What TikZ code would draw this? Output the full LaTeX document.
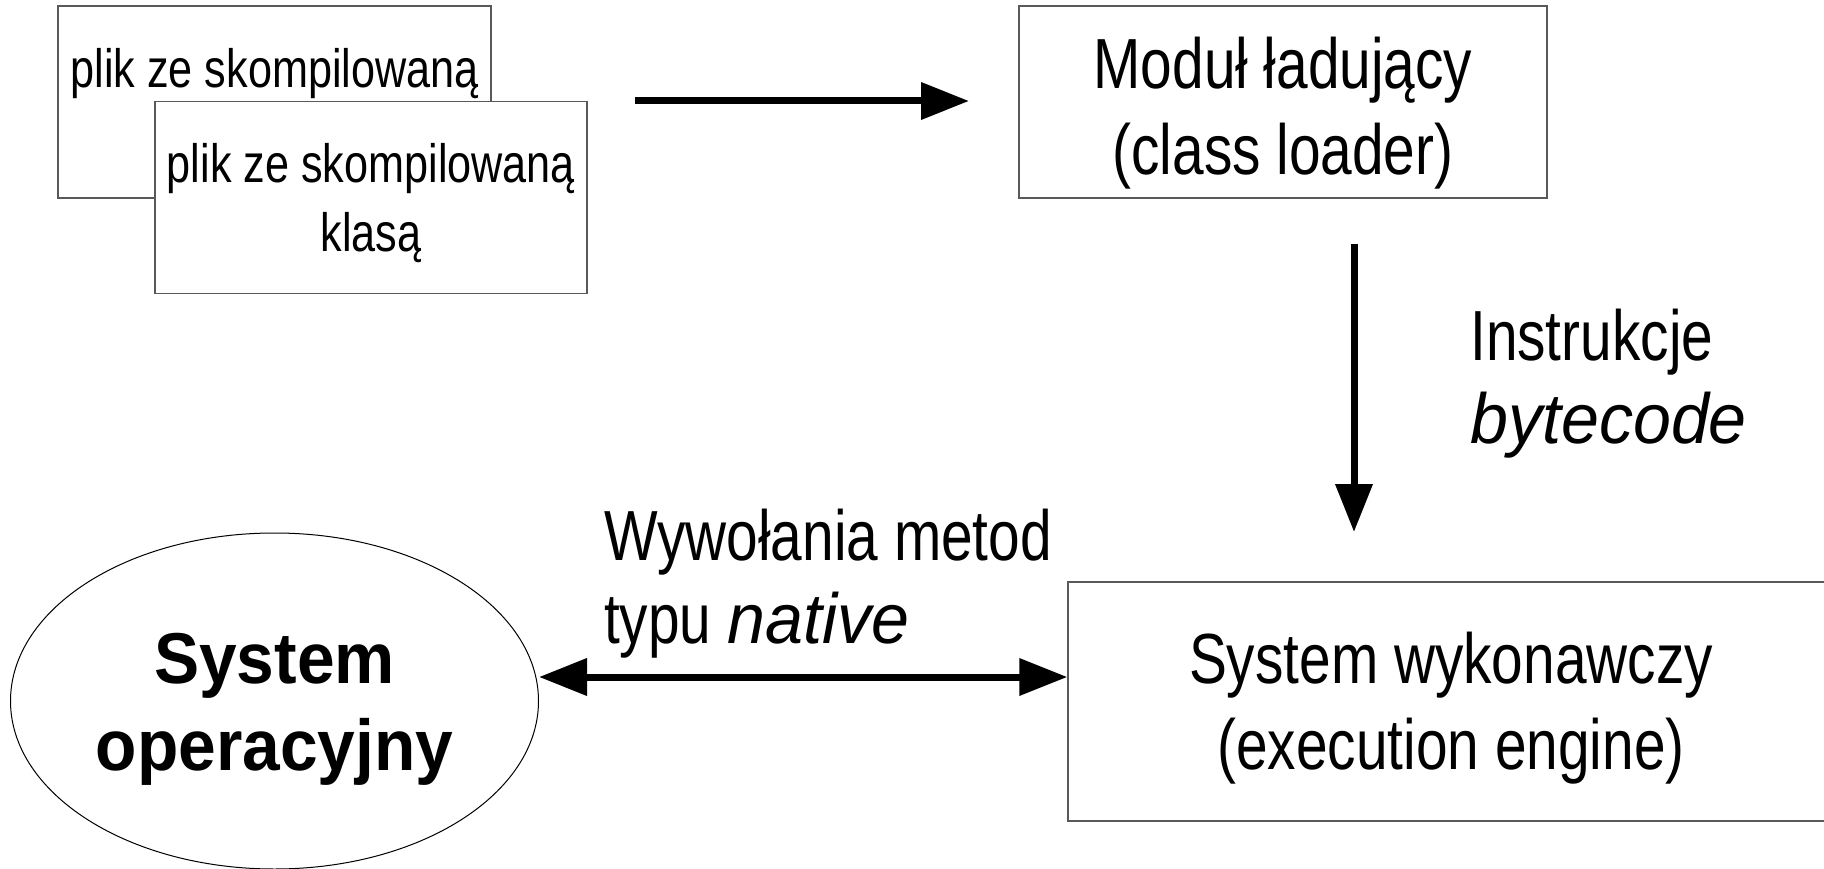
\documentclass[tikz,border=0pt]{standalone}
\usepackage{fontspec}
\setmainfont[FakeStretch=0.8]{Liberation Sans}
\newfontfamily\osfont[FakeStretch=0.94]{Liberation Sans}
\newfontfamily\itfont[FakeStretch=0.96]{Liberation Sans}
\usetikzlibrary{arrows.meta,shapes.geometric}
\newcommand{\lift}[1]{\rule{0pt}{#1}}
\begin{document}
\begin{tikzpicture}[x=1pt,y=-1pt,
  box/.style={rectangle,draw=black!65,line width=1.4pt,fill=white,inner sep=0pt,align=center},
  small/.style={font=\fontsize{54}{69}\selectfont},
  big/.style={font=\fontsize{71}{86}\selectfont},
  lbl/.style={inner sep=0pt,align=left,anchor=north west,font=\fontsize{71}{83}\selectfont},
  arr/.style={line width=7pt,-{Triangle[length=48pt,width=36pt]}},
  darr/.style={line width=7pt,{Triangle[length=48pt,width=36pt]}-{Triangle[length=48pt,width=36pt]}},
]
\useasboundingbox (0,0) rectangle (1824,869);
\node[box,small,minimum width=433pt,minimum height=192pt] (f1) at (274.5,102) {\lift{51pt}plik ze skompilowaną\\\phantom{klasą}};
\node[box,small,minimum width=432pt,minimum height=192pt] (f2) at (371,197.5) {\lift{51pt}plik ze skompilowaną\\klasą};
\node[box,big,minimum width=528pt,minimum height=192pt] (cl) at (1283,102) {\lift{73pt}Moduł ładujący\\(class loader)};
\node[box,big,minimum width=766pt,minimum height=239pt] (ex) at (1451,701.5) {\lift{65pt}System wykonawczy\\(execution engine)};
\node[ellipse,draw,line width=1pt,inner sep=0pt,minimum width=528pt,minimum height=336pt,align=center,font=\osfont\bfseries\fontsize{72}{87}\selectfont] (os) at (274.5,701) {\lift{66pt}System\\operacyjny};
\node[lbl] (ib) at (1470,308) {\lift{52pt}Instrukcje\\{\itfont\itshape bytecode}};
\node[lbl] (wm) at (604,508) {\lift{52pt}Wywołania metod\\typu {\itfont\itshape native}};
\coordinate (a1s) at (635,101);
\coordinate (a1e) at (969,101);
\draw[arr] (a1s) -- (a1e);
\coordinate (a2s) at (1354,244);
\coordinate (a2e) at (1354,532);
\draw[arr] (a2s) -- (a2e);
\coordinate (dy) at (0,677);
\draw[darr] (os.east |- dy) -- (ex.west |- dy);
\end{tikzpicture}
\end{document}
